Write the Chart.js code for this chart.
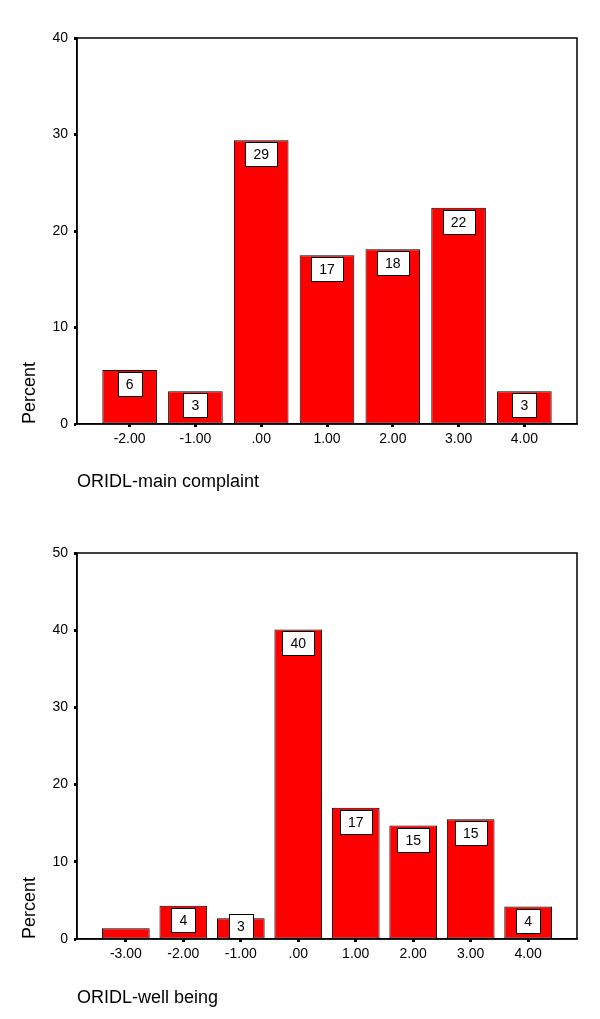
<!DOCTYPE html>
<html>
<head>
<meta charset="utf-8">
<script src="https://cdn.jsdelivr.net/npm/chart.js@4/dist/chart.umd.min.js"></script>
<style>
  html, body { margin: 0; padding: 0; background: #fff; }
  #wrap { position: relative; width: 600px; height: 1019px; }
  canvas { position: absolute; left: 0; }
</style>
</head>
<body>
<div id="wrap">
  <canvas id="mainChart" width="600" height="509" style="top:0"></canvas>
  <canvas id="wellChart" width="600" height="510" style="top:509px"></canvas>
</div>
<script>
// ORIDL-main complaint
const mainScores = [-2, -1, 0, 1, 2, 3, 4];
const mainPercent = [5.6, 3.4, 29.4, 17.5, 18.1, 22.4, 3.4];
const mainLabels = ['6', '3', '29', '17', '18', '22', '3'];
const mainTicks = [0, 10, 20, 30, 40];

// ORIDL-well being
const wellScores = [-3, -2, -1, 0, 1, 2, 3, 4];
const wellPercent = [1.4, 4.3, 2.7, 40.1, 17.0, 14.7, 15.5, 4.2];
const wellLabels = [null, '4', '3', '40', '17', '15', '15', '4'];
const wellTicks = [0, 10, 20, 30, 40, 50];

const FONT = "'Liberation Sans', Arial, Helvetica, sans-serif";

function fmtScore(v) {
    if (v === 0) return '.00';
    return v.toFixed(2);
}

// box frame round the plot area
const framePlugin = {
    id: 'frame',
    afterDatasetsDraw(chart) {
        const a = chart.chartArea;
        const ctx = chart.ctx;
        ctx.save();
        ctx.strokeStyle = '#000';
        ctx.lineWidth = 1.5;
        ctx.strokeRect(a.left, a.top, a.right - a.left, a.bottom - a.top);
        ctx.restore();
    }
};

// white label boxes at the top of each bar
const boxPlugin = {
    id: 'boxes',
    afterDraw(chart) {
        const ctx = chart.ctx;
        const labels = chart.options.plugins.boxes.labels;
        const meta = chart.getDatasetMeta(0);
        const zeroY = chart.scales.y.getPixelForValue(0);
        ctx.save();
        ctx.font = '14px ' + FONT;
        ctx.textAlign = 'center';
        ctx.textBaseline = 'middle';
        meta.data.forEach(function(bar, i) {
            const txt = labels[i];
            if (!txt) return;
            const w = Math.round(ctx.measureText(txt).width + 16);
            const h = 24;
            const top = Math.round(Math.min(bar.y + 2, zeroY - h - 1)) + 0.5;
            const left = Math.round(bar.x - w / 2) + 0.5;
            ctx.fillStyle = '#fff';
            ctx.fillRect(left, top, w, h);
            ctx.strokeStyle = '#000';
            ctx.lineWidth = 1;
            ctx.strokeRect(left, top, w, h);
            ctx.fillStyle = '#000';
            ctx.fillText(txt, bar.x, top + h / 2 + 1);
        });
        ctx.restore();
    }
};

function makeChart(id, scores, values, labels, yTicks, title, padTop, xHeight, titlePad) {
    const ctx = document.getElementById(id).getContext('2d');
    const span = scores.length > 7 ? 0.85 : 0.8;
    return new Chart(ctx, {
        type: 'bar',
        data: {
            datasets: [{
                data: scores.map(function(s, i) { return { x: s, y: values[i] }; }),
                backgroundColor: '#ff0000',
                borderColor: '#000',
                borderWidth: 1,
                borderSkipped: false,
                barPercentage: 0.83,
                categoryPercentage: 1
            }]
        },
        plugins: [framePlugin, boxPlugin],
        options: {
            responsive: false,
            animation: false,
            layout: { padding: { top: padTop, right: 23, bottom: 0, left: 0 } },
            plugins: {
                legend: { display: false },
                tooltip: { enabled: false },
                boxes: { labels: labels }
            },
            scales: {
                x: {
                    type: 'linear',
                    offset: false,
                    min: scores[0] - span,
                    max: scores[scores.length - 1] + span,
                    afterBuildTicks: function(scale) {
                        scale.ticks = scores.map(function(v) { return { value: v }; });
                    },
                    afterFit: function(scale) { scale.height = xHeight; },
                    ticks: {
                        color: '#000',
                        font: { family: FONT, size: 14 },
                        padding: 4,
                        maxRotation: 0,
                        callback: function(v) { return fmtScore(v); }
                    },
                    grid: {
                        offset: false,
                        drawOnChartArea: false,
                        tickLength: 3,
                        tickWidth: 3,
                        tickColor: '#000'
                    },
                    border: { display: true, color: '#000', width: 1.5 },
                    title: {
                        display: true,
                        text: title,
                        align: 'start',
                        color: '#000',
                        font: { family: FONT, size: 18 },
                        padding: { top: 0, bottom: titlePad }
                    }
                },
                y: {
                    min: yTicks[0],
                    max: yTicks[yTicks.length - 1],
                    afterBuildTicks: function(scale) {
                        scale.ticks = yTicks.map(function(v) { return { value: v }; });
                    },
                    afterFit: function(scale) { scale.width = 77; },
                    ticks: {
                        color: '#000',
                        font: { family: FONT, size: 14 },
                        padding: 6
                    },
                    grid: {
                        drawOnChartArea: false,
                        tickLength: 3,
                        tickWidth: 3,
                        tickColor: '#000'
                    },
                    border: { display: true, color: '#000', width: 1.5 },
                    title: {
                        display: true,
                        text: 'Percent',
                        align: 'start',
                        color: '#000',
                        font: { family: FONT, size: 18 },
                        padding: { top: 19, bottom: 0 }
                    }
                }
            }
        }
    });
}

makeChart('mainChart', mainScores, mainPercent, mainLabels, mainTicks, 'ORIDL-main complaint', 38, 85, 16);
makeChart('wellChart', wellScores, wellPercent, wellLabels, wellTicks, 'ORIDL-well being', 44, 80, 10);
</script>
</body>
</html>
